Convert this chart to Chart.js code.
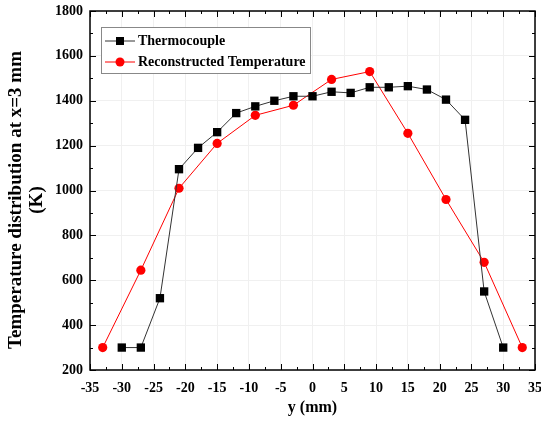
<!DOCTYPE html>
<html>
<head>
<meta charset="utf-8">
<script src="https://cdn.jsdelivr.net/npm/chart.js@4.4.0/dist/chart.umd.min.js"></script>
<style>
  html, body { margin: 0; padding: 0; background: #fff; }
  #wrap { width: 541px; height: 421px; }
</style>
</head>
<body>
<div id="wrap"><canvas id="tempChart"></canvas></div>
<script>
// datos
const thermoX = [-30, -27, -24, -21, -18, -15, -12, -9, -6, -3, 0, 3, 6, 9, 12, 15, 18, 21, 24, 27, 30];
const thermoT = [300, 300, 520, 1095, 1190, 1260, 1345, 1375, 1400, 1420, 1420, 1440, 1435, 1460, 1460, 1465, 1450, 1405, 1315, 550, 300];
const reconX = [-33, -27, -21, -15, -9, -3, 3, 9, 15, 21, 27, 33];
const reconT = [300, 645, 1010, 1210, 1335, 1380, 1495, 1530, 1255, 960, 680, 300];
const yTitle = ['Temperature distribution at x=3 mm', '(K)'];

const serif = "'Liberation Serif', 'Times New Roman', serif";

// icono de leyenda: linea + marcador
function legendIcon(color, lineColor, shape) {
    const c = document.createElement('canvas');
    c.width = 30; c.height = 12;
    const g = c.getContext('2d');
    g.strokeStyle = lineColor;
    g.lineWidth = 1;
    g.beginPath(); g.moveTo(0, 6); g.lineTo(30, 6); g.stroke();
    g.fillStyle = color;
    if (shape === 'rect') {
        g.fillRect(11, 2, 8, 8);
    } else {
        g.beginPath(); g.arc(15, 6, 4.5, 0, Math.PI * 2); g.fill();
    }
    return c;
}

// marco y ticks hacia dentro en los cuatro lados
const framePlugin = {
    id: 'frame',
    afterDatasetsDraw(chart) {
        const { ctx, chartArea: a, scales: { x, y } } = chart;
        ctx.save();
        ctx.strokeStyle = '#000';
        ctx.lineWidth = 1;
        for (let v = -35; v <= 35; v += 2.5) {
            const px = Math.round(x.getPixelForValue(v)) + 0.5;
            const len = (v % 5 === 0) ? 6 : 3;
            ctx.beginPath();
            ctx.moveTo(px, a.bottom); ctx.lineTo(px, a.bottom - len);
            ctx.moveTo(px, a.top); ctx.lineTo(px, a.top + len);
            ctx.stroke();
        }
        for (let v = 200; v <= 1800; v += 100) {
            const py = Math.round(y.getPixelForValue(v)) + 0.5;
            const len = (v % 200 === 0) ? 6 : 3;
            ctx.beginPath();
            ctx.moveTo(a.left, py); ctx.lineTo(a.left + len, py);
            ctx.moveTo(a.right, py); ctx.lineTo(a.right - len, py);
            ctx.stroke();
        }
        ctx.lineWidth = 1.5;
        ctx.strokeRect(a.left, a.top, a.right - a.left, a.bottom - a.top);

        // titulo del eje y (dos lineas, girado)
        ctx.fillStyle = '#000';
        ctx.font = 'bold 19px ' + serif;
        ctx.textAlign = 'center';
        ctx.textBaseline = 'middle';
        ctx.translate(16, 200);
        ctx.rotate(-Math.PI / 2);
        ctx.fillText(yTitle[0], 0, 0);
        ctx.fillText(yTitle[1], 0, 21);
        ctx.restore();
    }
};

// leyenda dentro del area
const legendPlugin = {
    id: 'innerLegend',
    afterDraw(chart) {
        const { ctx, chartArea: a } = chart;
        const bx = a.left + 11, by = a.top + 16, bw = 209, bh = 46;
        ctx.save();
        ctx.fillStyle = '#fff';
        ctx.fillRect(bx, by, bw, bh);
        ctx.strokeStyle = '#888';
        ctx.lineWidth = 1;
        ctx.strokeRect(bx + 0.5, by + 0.5, bw, bh);
        ctx.font = 'bold 14px ' + serif;
        ctx.textBaseline = 'middle';
        ctx.fillStyle = '#000';
        chart.data.datasets.forEach((ds, i) => {
            const cy = by + 14 + i * 21;
            ctx.drawImage(ds.legendIcon, bx + 4, cy - 6);
            ctx.fillText(ds.label, bx + 37, cy);
        });
        ctx.restore();
    }
};

const ctx = document.getElementById('tempChart').getContext('2d');
new Chart(ctx, {
    type: 'scatter',
    data: {
        datasets: [{
            label: 'Thermocouple',
            data: thermoX.map((v, i) => ({ x: v, y: thermoT[i] })),
            showLine: true,
            borderColor: '#333',
            borderWidth: 1,
            backgroundColor: '#000',
            pointStyle: 'rect',
            pointRadius: 5.9,
            pointBorderWidth: 0,
            legendIcon: legendIcon('#000', '#333', 'rect')
        }, {
            label: 'Reconstructed Temperature',
            data: reconX.map((v, i) => ({ x: v, y: reconT[i] })),
            showLine: true,
            borderColor: '#ff0000',
            borderWidth: 1,
            backgroundColor: '#ff0000',
            pointStyle: 'circle',
            pointRadius: 4.6,
            pointBorderWidth: 0,
            legendIcon: legendIcon('#ff0000', '#ff0000', 'circle')
        }]
    },
    options: {
        responsive: true,
        maintainAspectRatio: false,
        animation: false,
        layout: { padding: { left: 0, top: 11, right: 6, bottom: 0 } },
        scales: {
            x: {
                type: 'linear',
                min: -35,
                max: 35,
                afterFit: s => { s.height = 51; s.paddingLeft = 0; s.paddingRight = 0; },
                afterBuildTicks: s => { s.ticks = []; for (let v = -35; v <= 35; v += 5) s.ticks.push({ value: v }); },
                grid: { color: '#f0f0f0', drawTicks: false },
                border: { display: false },
                ticks: {
                    padding: 10,
                    color: '#000',
                    callback: v => String(v),
                    font: { family: serif, size: 14, weight: 'bold' }
                },
                title: {
                    display: true,
                    text: 'y (mm)',
                    color: '#000',
                    padding: { top: 0, bottom: 4 },
                    font: { family: serif, size: 16, weight: 'bold' }
                }
            },
            y: {
                min: 200,
                max: 1800,
                afterFit: s => { s.width = 90; s.paddingTop = 0; s.paddingBottom = 0; },
                grid: { color: '#f0f0f0', drawTicks: false },
                border: { display: false },
                ticks: {
                    stepSize: 200,
                    padding: 7,
                    color: '#000',
                    callback: v => String(v),
                    font: { family: serif, size: 14, weight: 'bold' }
                },
                title: { display: false }
            }
        },
        plugins: {
            legend: { display: false },
            tooltip: { enabled: false }
        }
    },
    plugins: [framePlugin, legendPlugin]
});
</script>
</body>
</html>
